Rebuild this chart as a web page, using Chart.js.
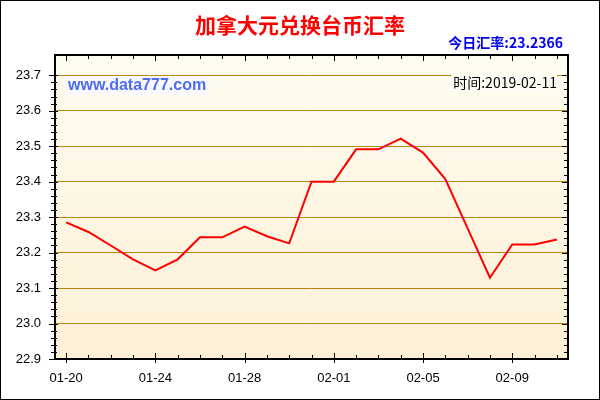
<!DOCTYPE html>
<html>
<head>
<meta charset="utf-8">
<script src="https://cdn.jsdelivr.net/npm/chart.js@4"></script>
<style>
  html, body { margin: 0; padding: 0; background: #fff; }
  #wrap { width: 600px; height: 400px; position: relative; }
</style>
</head>
<body>
<div id="wrap"><canvas id="rateChart" width="600" height="400"></canvas></div>
<script>
// ===== Data =====
const days = ['01-20', '01-21', '01-22', '01-23', '01-24', '01-25', '01-26', '01-27',
    '01-28', '01-29', '01-30', '01-31', '02-01', '02-02', '02-03', '02-04',
    '02-05', '02-06', '02-07', '02-08', '02-09', '02-10', '02-11'];
const rates = [23.285, 23.258, 23.220, 23.181, 23.150, 23.181, 23.243, 23.243,
    23.273, 23.246, 23.226, 23.400, 23.400, 23.491, 23.491, 23.521,
    23.482, 23.407, 23.268, 23.129, 23.223, 23.223, 23.2366];
const yTicks = [22.9, 23.0, 23.1, 23.2, 23.3, 23.4, 23.5, 23.6, 23.7];
const yMin = 22.9;
const yMax = 23.757;

const titleText = '加拿大元兑换台币汇率';
const todayText = '今日汇率:23.2366';
const timeText = '时间:2019-02-11';
const siteText = 'www.data777.com';

// ===== Plugins =====
const frame = {
    id: 'frame',
    beforeDraw(chart) {
        const { ctx, chartArea: a } = chart;
        ctx.save();
        ctx.fillStyle = '#fff';
        ctx.fillRect(0, 0, chart.width, chart.height);
        const g = ctx.createLinearGradient(0, a.top, 0, a.bottom);
        g.addColorStop(0, '#fffdf1');
        g.addColorStop(1, '#fdf0d6');
        ctx.fillStyle = g;
        ctx.fillRect(a.left, a.top, a.right - a.left, a.bottom - a.top);
        ctx.restore();
    },
    beforeDatasetsDraw(chart) {
        const { ctx, chartArea: a } = chart;
        ctx.save();
        // watermark and time stamp
        ctx.font = 'bold 16px "Liberation Sans", Arial, sans-serif';
        let w = ctx.measureText(siteText).width;
        ctx.fillStyle = '#f9f9fd';
        ctx.fillRect(a.left + 11, 76, w + 4, 19);
        ctx.fillStyle = '#4d6cf0';
        ctx.textBaseline = 'middle';
        ctx.fillText(siteText, a.left + 13, 86);

        ctx.font = '14px "Noto Sans CJK SC", "Liberation Sans", sans-serif';
        w = ctx.measureText(timeText).width;
        ctx.fillStyle = '#fffdf3';
        ctx.fillRect(a.right - 13 - w, 74, w + 2, 18);
        ctx.fillStyle = '#000';
        ctx.textAlign = 'right';
        ctx.fillText(timeText, a.right - 11, 83);
        ctx.restore();
    },
    afterDraw(chart) {
        const { ctx, chartArea: a } = chart;
        const xs = chart.scales.x, ys = chart.scales.y;
        ctx.save();
        ctx.strokeStyle = '#000';
        ctx.lineWidth = 1;
        ctx.beginPath();
        // y ticks, left and right
        for (let i = 0; i <= 40; i++) {
            const v = yMin + i * 0.02;
            if (v > yMax) break;
            const py = Math.round(ys.getPixelForValue(v)) + 0.5;
            const major = i % 5 === 0;
            ctx.moveTo(a.left - (major ? 6 : 4), py);
            ctx.lineTo(a.left + (major ? 3 : 2), py);
            ctx.moveTo(a.right - (major ? 6 : 4), py);
            ctx.lineTo(a.right, py);
        }
        // x ticks, top and bottom
        days.forEach((d, i) => {
            const px = Math.round(xs.getPixelForValue(i)) + 0.5;
            const major = i % 4 === 0;
            ctx.moveTo(px, a.top);
            ctx.lineTo(px, a.top + (major ? 6 : 4));
            ctx.moveTo(px, a.bottom - (major ? 6 : 4));
            ctx.lineTo(px, a.bottom + (major ? 4 : 0));
        });
        ctx.stroke();
        // plot border
        ctx.lineWidth = 2;
        ctx.strokeRect(a.left, a.top, a.right - a.left, a.bottom - a.top);
        // outer border
        ctx.lineWidth = 1;
        ctx.strokeRect(0.5, 0.5, chart.width - 1, chart.height - 1);

        // titles
        ctx.textBaseline = 'middle';
        ctx.textAlign = 'center';
        ctx.fillStyle = '#ff0000';
        ctx.font = 'bold 21px "Noto Sans CJK SC", sans-serif';
        ctx.fillText(titleText, 300, 25);
        ctx.textAlign = 'right';
        ctx.fillStyle = '#0000ee';
        ctx.font = 'bold 14px "Noto Sans CJK SC", "Liberation Sans", sans-serif';
        ctx.fillText(todayText, 563, 43);
        ctx.restore();
    }
};

// ===== Chart =====
new Chart(document.getElementById('rateChart'), {
    type: 'line',
    data: {
        labels: days,
        datasets: [{
            data: rates,
            borderColor: '#ff0000',
            borderWidth: 2,
            pointRadius: 0,
            tension: 0,
            fill: false
        }]
    },
    options: {
        responsive: false,
        animation: false,
        events: [],
        layout: { padding: { top: 55, right: 32, left: 0, bottom: 0 } },
        plugins: {
            legend: { display: false },
            tooltip: { enabled: false }
        },
        scales: {
            x: {
                type: 'category',
                offset: true,
                grid: { display: false, drawTicks: false },
                border: { display: false },
                afterFit(scale) { scale.height = 41; },
                ticks: {
                    autoSkip: false,
                    maxRotation: 0,
                    padding: 12,
                    color: '#000',
                    font: { family: '"Liberation Sans", Arial, sans-serif', size: 13 },
                    callback: (v, i) => (i % 4 === 0 ? days[i] : '')
                }
            },
            y: {
                min: yMin,
                max: yMax,
                afterBuildTicks(scale) { scale.ticks = yTicks.map(v => ({ value: v })); },
                afterFit(scale) { scale.width = 55; },
                grid: { color: '#b8860b', lineWidth: 1, drawTicks: false },
                border: { display: false },
                ticks: {
                    padding: 14,
                    color: '#000',
                    font: { family: '"Liberation Sans", Arial, sans-serif', size: 13 },
                    callback: v => v.toFixed(1)
                }
            }
        }
    },
    plugins: [frame]
});
</script>
</body>
</html>
